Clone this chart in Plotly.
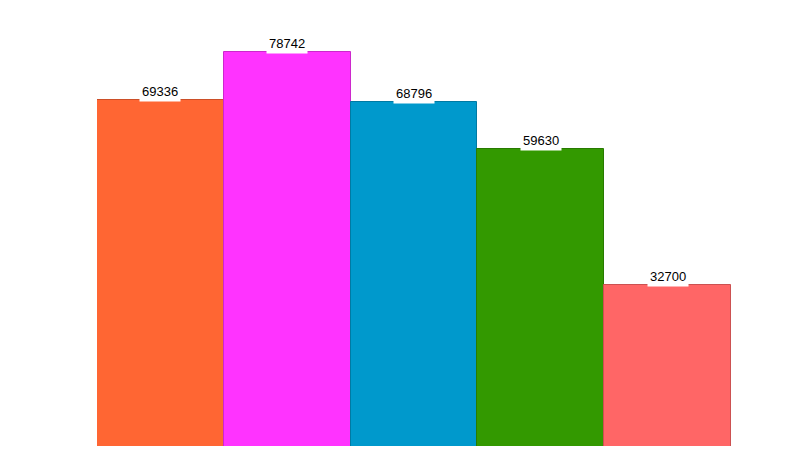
import plotly.graph_objects as go

categories = ["A", "B", "C", "D", "E"]
values = [69336, 78742, 68796, 59630, 32700]
colors = ["#FF6633", "#FF33FF", "#0099CC", "#339900", "#FF6666"]
line_colors = ["#CC4F28", "#CC28CC", "#007AA3", "#287A00", "#CC5151"]

fig = go.Figure(go.Bar(
    x=categories, y=values,
    marker=dict(color=colors, line=dict(color=line_colors, width=1)),
    hoverinfo="skip",
))

for c, v in zip(categories, values):
    fig.add_annotation(
        x=c, y=v, text=str(v), showarrow=False,
        yanchor="bottom", yshift=-2, bgcolor="white", borderpad=2,
        font=dict(family="Liberation Sans, Arial", size=13, color="#000000"),
    )

fig.update_layout(
    width=800, height=470,
    margin=dict(l=89, r=77, t=12, b=32),
    paper_bgcolor="white", plot_bgcolor="white",
    bargap=0, showlegend=False,
    xaxis=dict(visible=False),
    yaxis=dict(visible=False, range=[890, 85060]),
)

fig.write_html("out.html")
